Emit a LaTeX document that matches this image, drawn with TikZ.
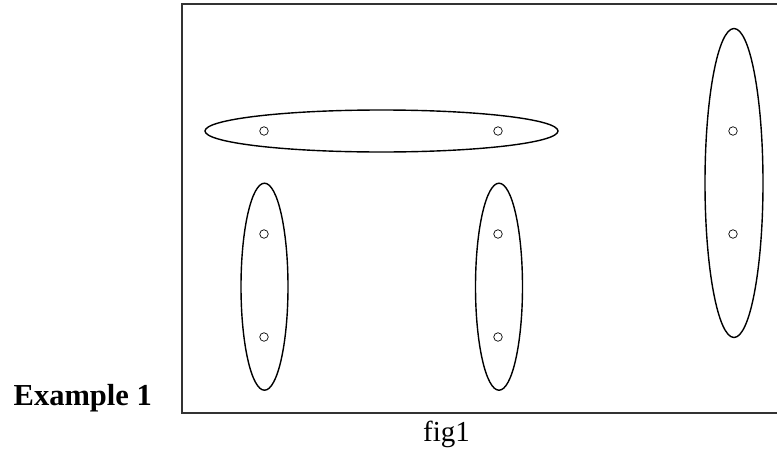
\documentclass[tikz,border=0pt]{standalone}
\usepackage{fontspec}
\setmainfont{Liberation Serif}
\usetikzlibrary{shapes.geometric}

\begin{document}
\begin{tikzpicture}[
    x=1pt, y=-1pt,
    blob/.style={
        ellipse, draw=black, line width=1.4pt, inner sep=0pt
    },
    hblob/.style={blob, minimum width=353pt, minimum height=42pt},
    vblob/.style={blob, minimum width=47pt, minimum height=207pt},
    tallblob/.style={blob, minimum width=58pt, minimum height=309pt},
    pt/.style={
        circle, draw=black, line width=0.7pt, inner sep=0pt,
        minimum size=8.5pt, fill=white
    },
    frameline/.style={line width=1.1pt, draw=black!80},
    lbl/.style={font=\fontsize{29}{34}\selectfont, inner sep=0pt}
]
\useasboundingbox (0,0) rectangle (777,450);

% Frame, open on the right where the page cuts it off
\coordinate (ftr) at (777,4);
\coordinate (ftl) at (182,4);
\coordinate (fbl) at (182,413);
\coordinate (fbr) at (777,413);
\draw[frameline] (ftr) -- (ftl) -- (fbl) -- (fbr);

% Grouping ellipses
\node[hblob] (top) at (381.5,131) {};
\node[vblob] (left) at (264.5,286.7) {};
\node[vblob] (mid) at (499,286.7) {};
\node[tallblob] (right) at (734,183) {};

% Points
\node[pt] (p1) at (264,131) {};
\node[pt] (p2) at (498,131) {};
\node[pt] (p3) at (264,234) {};
\node[pt] (p4) at (264,337) {};
\node[pt] (p5) at (498,234) {};
\node[pt] (p6) at (498,337) {};
\node[pt] (p7) at (733,131) {};
\node[pt] (p8) at (733,234) {};

% Captions
\node[lbl, font=\fontsize{30.5}{36}\selectfont, anchor=base east] (title)
    at (152,405.5) {\textbf{Example 1}};
\node[lbl, anchor=base west] (caption) at (423,441.5) {fig1};

\end{tikzpicture}
\end{document}
